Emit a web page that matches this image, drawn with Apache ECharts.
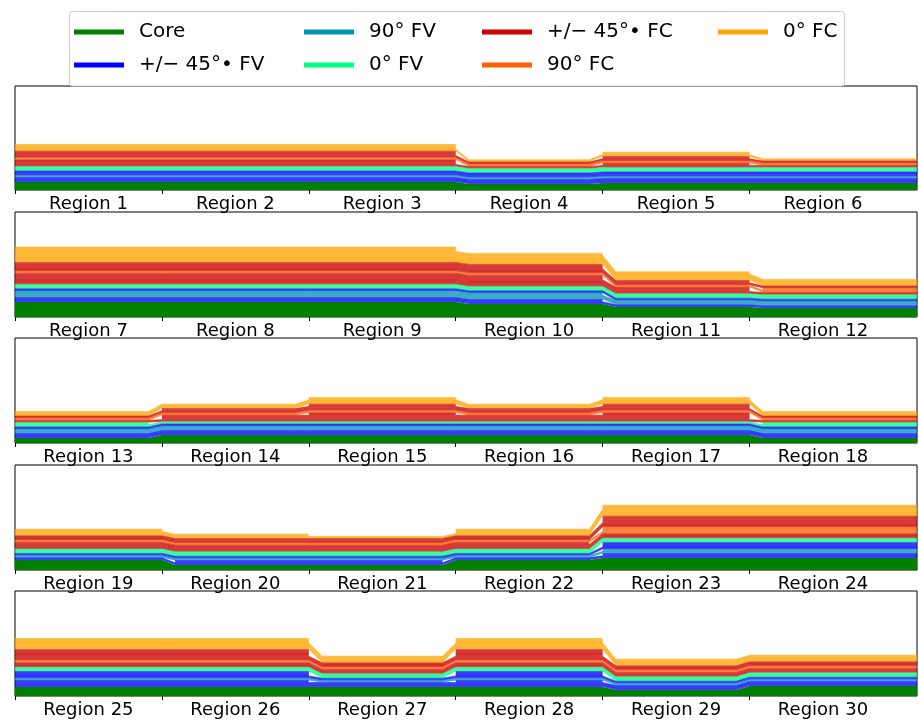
<!DOCTYPE html>
<html>
<head>
<meta charset="utf-8">
<script src="https://cdn.jsdelivr.net/npm/echarts@6/dist/echarts.min.js"></script>
<style>
  html, body { margin: 0; padding: 0; background: #fff; }
  #chart { width: 919px; height: 722px; }
</style>
</head>
<body>
<div id="chart"></div>
<script>
// region names, 6 per panel
const regionNames = [
  'Region 1', 'Region 2', 'Region 3', 'Region 4', 'Region 5', 'Region 6',
  'Region 7', 'Region 8', 'Region 9', 'Region 10', 'Region 11', 'Region 12',
  'Region 13', 'Region 14', 'Region 15', 'Region 16', 'Region 17', 'Region 18',
  'Region 19', 'Region 20', 'Region 21', 'Region 22', 'Region 23', 'Region 24',
  'Region 25', 'Region 26', 'Region 27', 'Region 28', 'Region 29', 'Region 30'
];

// core thickness per region
const coreThickness = [
  8, 8, 8, 6, 7, 7,
  15, 15, 15, 13, 10, 9,
  5, 8, 8, 8, 8, 5,
  10, 5, 5, 10, 12, 12,
  9, 9, 9, 9, 6, 10
];

// ply counts per region, bottom to top of the stack
const fv45Inner = [2, 2, 2, 2, 2, 2,  2, 2, 2, 2, 1, 1,  2, 2, 2, 2, 2, 2,  1, 2, 2, 1, 2, 2,  3, 3, 2, 3, 2, 2];
const fv90      = [1, 1, 1, 1, 1, 1,  3, 3, 3, 3, 2, 2,  2, 2, 2, 2, 2, 2,  1, 1, 1, 1, 2, 2,  1, 1, 1, 1, 1, 1];
const fv45Outer = [2, 2, 2, 2, 2, 2,  1, 1, 1, 1, 1, 1,  1, 1, 1, 1, 1, 1,  1, 1, 1, 1, 3, 3,  3, 3, 1, 3, 1, 1];
const fv0       = [2, 2, 2, 2, 2, 2,  2, 2, 2, 2, 2, 2,  2, 1, 1, 1, 1, 2,  2, 2, 2, 2, 2, 2,  2, 2, 2, 2, 2, 2];
const fc45Inner = [3, 3, 3, 1, 2, 1,  5, 5, 5, 5, 3, 1,  1, 3, 4, 3, 4, 1,  3, 3, 3, 3, 2, 2,  2, 2, 2, 2, 2, 2];
const fc90      = [1, 1, 1, 1, 1, 1,  1, 1, 1, 1, 1, 2,  1, 1, 1, 1, 1, 1,  1, 1, 1, 1, 3, 3,  1, 1, 1, 1, 1, 1];
const fc45Outer = [3, 3, 3, 1, 2, 1,  4, 4, 4, 4, 2, 1,  1, 2, 3, 2, 3, 1,  2, 2, 2, 2, 5, 5,  5, 5, 2, 5, 2, 2];
const fc0       = [3, 3, 3, 1, 2, 1,  7, 7, 7, 5, 4, 3,  2, 2, 3, 2, 3, 2,  3, 2, 1, 3, 5, 5,  5, 5, 3, 5, 3, 3];

const plyThickness = 2.2;

const layerNames = ['Core', '+/\u2212 45°\u2022 FV', '90° FV', '0° FV', '+/\u2212 45°\u2022 FC', '90° FC', '0° FC'];
const layerColors = ['#008000', '#0000ff', '#0096b4', '#00ff80', '#cc0000', '#ff5f00', '#ffa500'];

const groups = [
  { counts: fv45Inner, layer: 1 },
  { counts: fv90, layer: 2 },
  { counts: fv45Outer, layer: 1 },
  { counts: fv0, layer: 3 },
  { counts: fc45Inner, layer: 4 },
  { counts: fc90, layer: 5 },
  { counts: fc45Outer, layer: 4 },
  { counts: fc0, layer: 6 }
];

const panelTops = [86, 212, 338, 465, 591];
const panelHeights = [104, 105, 105, 105, 105];
const xMax = 6.14;
const ramp = 0.09;
const font = 'DejaVu Sans';

const grids = [], xAxes = [], yAxes = [], series = [];

panelTops.forEach((top, p) => {
  const idx = [0, 1, 2, 3, 4, 5].map(i => p * 6 + i);
  const totals = idx.map(r => coreThickness[r] +
    groups.reduce((s, g) => s + g.counts[r], 0) * plyThickness);

  // x extent of each region's flat part; the taper sits in the thinner region
  const spans = idx.map((r, i) => {
    const start = i === 0 ? 0 : (totals[i] < totals[i - 1] ? i + ramp : i);
    const end = i === 5 ? xMax : (totals[i] < totals[i + 1] ? i + 1 - ramp : i + 1);
    return [start, end];
  });

  // points are [thickness, x] so that the thickness dimension is the stacked one
  const pts = vals => {
    const out = [];
    idx.forEach((r, i) => {
      out.push([vals[i], spans[i][0]]);
      out.push([vals[i], spans[i][1]]);
    });
    return out;
  };

  grids.push({
    left: 15, right: 2, top: top, height: panelHeights[p],
    show: true, borderColor: '#000', borderWidth: 1, backgroundColor: 'transparent'
  });
  xAxes.push({
    gridIndex: p, type: 'value', min: 0, max: xMax,
    axisLine: { show: false }, splitLine: { show: false },
    axisTick: { show: true, customValues: [0, 1, 2, 3, 4, 5], length: 4, lineStyle: { color: '#000', width: 1 } },
    axisLabel: {
      show: true, customValues: [0.5, 1.5, 2.5, 3.5, 4.5, 5.5],
      formatter: v => regionNames[p * 6 + Math.floor(v)],
      fontSize: 18, fontFamily: font, color: '#000', margin: 5
    }
  });
  yAxes.push({
    gridIndex: p, type: 'value', min: 0, max: panelHeights[p],
    axisLine: { show: false }, axisTick: { show: false },
    axisLabel: { show: false }, splitLine: { show: false }
  });

  const base = {
    type: 'line', xAxisIndex: p, yAxisIndex: p, stack: 'p' + p,
    encode: { x: 1, y: 0 }, symbol: 'none', silent: true
  };

  series.push(Object.assign({}, base, {
    name: layerNames[0],
    data: pts(idx.map(r => coreThickness[r])),
    lineStyle: { width: 0, color: layerColors[0] },
    itemStyle: { color: layerColors[0] },
    areaStyle: { color: layerColors[0], opacity: 1 }
  }));

  groups.forEach(g => {
    const maxCount = Math.max(...idx.map(r => g.counts[r]));
    const col = layerColors[g.layer];
    for (let k = 0; k < maxCount; k++) {
      series.push(Object.assign({}, base, {
        name: layerNames[g.layer],
        data: pts(idx.map(r => g.counts[r] > k ? plyThickness : null)),
        lineStyle: { width: 0.6, color: col, opacity: 0.85 },
        itemStyle: { color: col },
        areaStyle: { color: col, opacity: 0.75 }
      }));
    }
  });
});

const legendCols = [
  { left: 74, data: [layerNames[0], layerNames[1]] },
  { left: 304, data: [layerNames[2], layerNames[3]] },
  { left: 482, data: [layerNames[4], layerNames[5]] },
  { left: 718, data: [layerNames[6]] }
];

const chart = echarts.init(document.getElementById('chart'), null, { renderer: 'canvas' });
chart.setOption({
  animation: false,
  backgroundColor: '#fff',
  grid: grids,
  xAxis: xAxes,
  yAxis: yAxes,
  series: series,
  legend: legendCols.map(c => ({
    left: c.left, top: 22, orient: 'vertical', itemGap: 13,
    icon: 'rect', itemWidth: 50, itemHeight: 5,
    selectedMode: false, z: 60, padding: 0,
    data: c.data,
    textStyle: { fontSize: 20, fontFamily: font, color: '#000', padding: [0, 0, 0, 10] }
  })),
  graphic: [{
    type: 'rect', z: 50, silent: true,
    shape: { x: 69.5, y: 11.5, width: 775, height: 74.5, r: 3 },
    style: { fill: '#fff', stroke: '#cccccc', lineWidth: 1 }
  }]
});
</script>
</body>
</html>
